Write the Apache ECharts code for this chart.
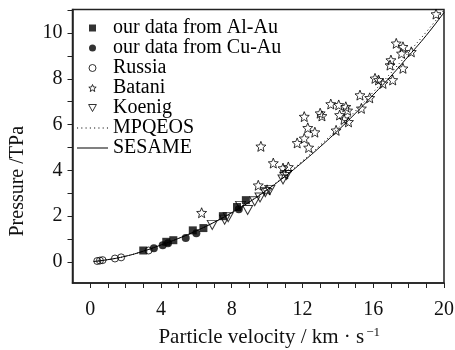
<!DOCTYPE html>
<html>
<head>
<meta charset="utf-8">
<script src="https://cdn.jsdelivr.net/npm/echarts@6/dist/echarts.min.js"></script>
<style>
  html, body { margin: 0; padding: 0; background: #fff; }
  #chart { width: 455px; height: 350px; }
</style>
</head>
<body>
<div id="chart"></div>
<script>
// particle velocity (km/s) vs pressure (TPa)
const alAu = [[3.0, 0.5], [4.3, 0.88], [4.7, 0.95], [5.8, 1.38], [6.4, 1.48], [7.5, 2.0], [8.3, 2.4], [8.8, 2.7]];
const cuAu = [[3.6, 0.6], [4.1, 0.73], [4.4, 0.82], [5.4, 1.05], [6.0, 1.25], [8.4, 2.3]];
const russia = [[0.4, 0.04], [0.55, 0.06], [0.7, 0.08], [1.4, 0.15], [1.75, 0.2], [3.3, 0.5]];
const batani = [
  [6.3, 2.15], [9.5, 3.35], [10.0, 3.15], [11.0, 3.85], [9.65, 5.05], [10.35, 4.32], [10.9, 4.1], [11.2, 4.15],
  [11.7, 5.2], [12.1, 5.4], [12.35, 5.0], [12.3, 5.86], [12.7, 5.67], [12.1, 6.35], [13.0, 6.5], [13.1, 6.38],
  [13.9, 5.75], [13.6, 6.9], [14.05, 6.86], [14.45, 6.78], [14.55, 6.62], [14.1, 6.42], [14.35, 6.23], [14.6, 6.12],
  [15.25, 7.29], [15.33, 6.71], [15.8, 7.17], [16.1, 8.02], [16.3, 7.95], [16.55, 7.8], [17.1, 7.95], [16.95, 8.6],
  [17.0, 8.82], [17.68, 8.46], [17.3, 9.55], [17.68, 9.4], [17.6, 9.11], [18.15, 9.18], [19.55, 10.83]
];
const koenig = [[6.9, 1.62], [7.6, 1.85], [7.8, 1.95], [8.5, 2.45], [8.9, 2.27], [9.3, 2.65], [9.6, 2.82], [9.9, 3.05], [10.15, 3.15], [10.9, 3.6], [11.1, 3.8]];

const curveU = [0.2, 1, 2, 3, 4, 5, 6, 7, 8, 9, 10, 11, 12, 13, 14, 15, 16, 17, 18, 19, 20];
const sesameP = [0.02, 0.1, 0.25, 0.47, 0.74, 1.03, 1.36, 1.73, 2.15, 2.62, 3.15, 3.73, 4.36, 5.03, 5.74, 6.5, 7.3, 8.12, 9.0, 9.9, 10.9];
const mpqeosP = [0.02, 0.1, 0.25, 0.47, 0.74, 1.03, 1.36, 1.73, 2.15, 2.63, 3.17, 3.76, 4.41, 5.1, 5.83, 6.6, 7.42, 8.26, 9.15, 10.05, 11.0];

const xTicks = [0, 1, 2, 3, 4, 5, 6, 7, 8, 9, 10, 11, 12, 13, 14, 15, 16, 17, 18, 19, 20];
const xLabels = [0, 4, 8, 12, 16, 20];
const yTicks = [0, 1, 2, 3, 4, 5, 6, 7, 8, 9, 10, 11];
const yLabels = [0, 2, 4, 6, 8, 10];

const FONT = "'Liberation Serif', 'Times New Roman', serif";
const SQUARE = 'path://M0,0h10v10h-10z';
const STAR = 'path://M10,0L12.6,6.4L19.5,6.9L14.2,11.4L15.9,18.1L10,14.4L4.1,18.1L5.8,11.4L0.5,6.9L7.4,6.4Z';
const TRI_DOWN = 'path://M0,0L10,0L5,9Z';
const SOLID_ICON = 'path://M0,0h31v1h-31z';
const DOT_ICON = 'path://M0,0h1v1h-1zM4,0h1v1h-1zM8,0h1v1h-1zM12,0h1v1h-1zM16,0h1v1h-1zM20,0h1v1h-1zM24,0h1v1h-1zM28,0h1v1h-1z';
const filled = { color: '#000', borderWidth: 0 };
const openStyle = { color: 'rgba(0,0,0,0)', borderColor: '#000', borderWidth: 1 };

const chart = echarts.init(document.getElementById('chart'), null, { renderer: 'canvas' });

const pair = (u, p) => u.map((v, i) => [v, p[i]]);

chart.setOption({
  animation: false,
  textStyle: { fontFamily: FONT },
  grid: {
    left: 72.5, right: 11, top: 9.5, bottom: 67,
    outerBoundsMode: 'none',
    show: true, borderColor: '#222', borderWidth: 1.5,
  },
  legend: {
    orient: 'vertical',
    left: 77, top: 18,
    padding: 0,
    itemWidth: 31, itemHeight: 7, itemGap: 0,
    symbolKeepAspect: true,
    selectedMode: false,
    textStyle: { fontFamily: FONT, fontSize: 20, lineHeight: 19.8, color: '#000' },
    data: [
      { name: 'our data from Al-Au', icon: SQUARE, itemStyle: filled },
      { name: 'our data from Cu-Au', icon: 'circle', itemStyle: filled },
      { name: 'Russia', icon: 'circle', itemStyle: openStyle },
      { name: 'Batani', icon: STAR, itemStyle: openStyle },
      { name: 'Koenig', icon: TRI_DOWN, itemStyle: openStyle },
      { name: 'MPQEOS', icon: DOT_ICON, itemStyle: filled },
      { name: 'SESAME', icon: SOLID_ICON, itemStyle: filled },
    ],
  },
  xAxis: {
    type: 'value', min: -1, max: 20,
    name: '{a|Particle velocity / km · s}{b|−1}',
    nameLocation: 'middle', nameGap: 43,
    nameTextStyle: {
      padding: [0, 0, 0, 22],
      rich: {
        a: { fontFamily: FONT, fontSize: 21, color: '#111', lineHeight: 22, verticalAlign: 'bottom' },
        b: { fontFamily: FONT, fontSize: 13, color: '#111', verticalAlign: 'top', padding: [0, 0, 0, 2] },
      },
    },
    axisLine: { onZero: false, lineStyle: { color: '#222', width: 1.5 } },
    axisTick: { length: 5, lineStyle: { color: '#222', width: 1 }, customValues: xTicks },
    axisLabel: { fontFamily: FONT, fontSize: 20, color: '#111', margin: 17, customValues: xLabels },
    splitLine: { show: false },
  },
  yAxis: {
    type: 'value', min: -0.92, max: 11.03,
    name: 'Pressure /TPa',
    nameLocation: 'middle', nameGap: 45, nameRotate: 90,
    nameTextStyle: { fontFamily: FONT, fontSize: 20, color: '#111', padding: [0, 70, 0, 0] },
    axisLine: { onZero: false, lineStyle: { color: '#222', width: 1.5 } },
    axisTick: { length: 5, lineStyle: { color: '#222', width: 1 }, customValues: yTicks },
    axisLabel: { fontFamily: FONT, fontSize: 20, color: '#111', margin: 10, customValues: yLabels },
    splitLine: { show: false },
  },
  series: [
    {
      name: 'SESAME', type: 'line', data: pair(curveU, sesameP),
      symbol: 'none', smooth: true, z: 3,
      lineStyle: { color: '#000', width: 1 }, itemStyle: { color: '#000' },
    },
    {
      name: 'MPQEOS', type: 'line', data: pair(curveU, mpqeosP),
      symbol: 'none', smooth: true, z: 3,
      lineStyle: { color: '#000', width: 1, type: [1, 3] }, itemStyle: { color: '#000' },
    },
    {
      name: 'our data from Al-Au', type: 'scatter', data: alAu,
      symbol: 'rect', symbolSize: 8, itemStyle: filled,
    },
    {
      name: 'our data from Cu-Au', type: 'scatter', data: cuAu,
      symbol: 'circle', symbolSize: 8, itemStyle: filled,
    },
    {
      name: 'Russia', type: 'scatter', data: russia,
      symbol: 'circle', symbolSize: 7, itemStyle: openStyle,
    },
    {
      name: 'Batani', type: 'scatter', data: batani,
      symbol: STAR, symbolSize: 10, itemStyle: openStyle,
    },
    {
      name: 'Koenig', type: 'scatter', data: koenig,
      symbol: TRI_DOWN, symbolSize: [10, 9], itemStyle: openStyle,
    },
  ],
});
</script>
</body>
</html>
